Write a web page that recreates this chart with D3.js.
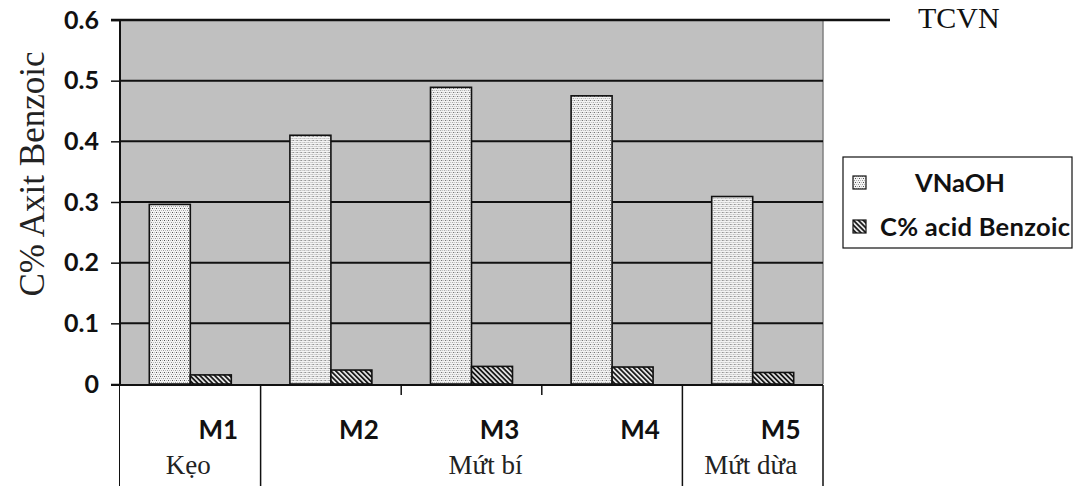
<!DOCTYPE html>
<html>
<head>
<meta charset="utf-8">
<script src="https://cdn.jsdelivr.net/npm/d3@7"></script>
<style>
  html, body { margin: 0; padding: 0; background: #fff; }
  svg { display: block; }
</style>
</head>
<body>
<svg id="chart" width="1077" height="486"></svg>
<script>
// Samples and their product groups
const samples = ["M1", "M2", "M3", "M4", "M5"];
const groups = [
  { name: "Kẹo", members: ["M1"] },
  { name: "Mứt bí", members: ["M2", "M3", "M4"] },
  { name: "Mứt dừa", members: ["M5"] }
];
const seriesNames = ["VNaOH", "C% acid Benzoic"];
const vNaOH = [0.296, 0.410, 0.489, 0.475, 0.309];
const acidBenzoic = [0.015, 0.023, 0.029, 0.028, 0.019];
const yTicks = [0, 0.1, 0.2, 0.3, 0.4, 0.5, 0.6];
const standardValue = 0.6;
const standardLabel = "TCVN";
const yTitle = "C% Axit Benzoic";

const svg = d3.select("#chart");
const plot = { left: 120, right: 823, top: 20, bottom: 384 };

const x = d3.scaleBand().domain(samples).range([plot.left, plot.right]).padding(0);
const xSub = d3.scaleBand().domain(seriesNames).range([0, x.bandwidth()])
  .paddingInner(0).paddingOuter(0.715);
const y = d3.scaleLinear().domain([0, 0.6]).range([plot.bottom, plot.top]);

// Fill patterns
const defs = svg.append("defs");
const dots = defs.append("pattern").attr("id", "dots")
  .attr("patternUnits", "userSpaceOnUse").attr("width", 4).attr("height", 4);
dots.append("rect").attr("width", 4).attr("height", 4).attr("fill", "#f4f4f4");
dots.append("rect").attr("x", 0).attr("y", 0).attr("width", 1).attr("height", 1).attr("fill", "#555");
dots.append("rect").attr("x", 2).attr("y", 0).attr("width", 1).attr("height", 1).attr("fill", "#bbb");
dots.append("rect").attr("x", 1).attr("y", 2).attr("width", 1).attr("height", 1).attr("fill", "#bbb");
dots.append("rect").attr("x", 3).attr("y", 2).attr("width", 1).attr("height", 1).attr("fill", "#999");

const hatch = defs.append("pattern").attr("id", "hatch")
  .attr("patternUnits", "userSpaceOnUse").attr("width", 3.5).attr("height", 3.5)
  .attr("patternTransform", "rotate(-45)");
hatch.append("rect").attr("width", 3.5).attr("height", 3.5).attr("fill", "#e8e8e8");
hatch.append("rect").attr("x", 0).attr("y", 0).attr("width", 1.8).attr("height", 3.5).attr("fill", "#1a1a1a");

const fills = { "VNaOH": "url(#dots)", "C% acid Benzoic": "url(#hatch)" };

// Plot background
svg.append("rect")
  .attr("x", plot.left).attr("y", plot.top)
  .attr("width", plot.right - plot.left).attr("height", plot.bottom - plot.top)
  .attr("fill", "#c0c0c0");
svg.append("line")
  .attr("x1", plot.right).attr("x2", plot.right)
  .attr("y1", plot.top).attr("y2", plot.bottom)
  .attr("stroke", "#808080").attr("stroke-width", 1.5);

// Grid lines
svg.append("g").selectAll("line")
  .data(yTicks.filter(t => t > 0 && t < 0.6))
  .join("line")
  .attr("x1", plot.left).attr("x2", plot.right)
  .attr("y1", d => y(d)).attr("y2", d => y(d))
  .attr("stroke", "#111").attr("stroke-width", 2);

// Bars
const rows = samples.map((s, i) => ({ sample: s, values: [vNaOH[i], acidBenzoic[i]] }));
const barG = svg.append("g").selectAll("g").data(rows).join("g")
  .attr("transform", d => `translate(${x(d.sample)},0)`);
barG.selectAll("rect")
  .data(d => seriesNames.map((n, k) => ({ name: n, value: d.values[k] })))
  .join("rect")
  .attr("x", d => xSub(d.name))
  .attr("width", xSub.bandwidth())
  .attr("y", d => y(d.value))
  .attr("height", d => y(0) - y(d.value))
  .attr("fill", d => fills[d.name])
  .attr("stroke", "#111").attr("stroke-width", 1.6);

// Standard (TCVN) line
svg.append("line")
  .attr("x1", 111).attr("x2", 890)
  .attr("y1", y(standardValue)).attr("y2", y(standardValue))
  .attr("stroke", "#111").attr("stroke-width", 2.5);
svg.append("text")
  .attr("x", 918).attr("y", y(standardValue) + 8)
  .attr("font-family", "Liberation Serif, Times New Roman, serif")
  .attr("font-size", 30).attr("fill", "#111")
  .text(standardLabel);

// Y axis
const yAxis = d3.axisLeft(y).tickValues(yTicks).tickSize(9).tickPadding(12)
  .tickFormat(d => d === 0 ? "0" : d3.format(".1f")(d));
const yg = svg.append("g").attr("transform", `translate(${plot.left},0)`).call(yAxis);
yg.select(".domain").remove();
yg.selectAll(".tick line").attr("stroke", "#111").attr("stroke-width", 1.5);
yg.selectAll(".tick text")
  .attr("font-family", "Lato, Open Sans, sans-serif")
  .attr("font-weight", 700).attr("font-size", 25).attr("fill", "#111");
svg.append("line")
  .attr("x1", plot.left).attr("x2", plot.left)
  .attr("y1", plot.top).attr("y2", 486)
  .attr("stroke", "#111").attr("stroke-width", 2);

// Y title
svg.append("text")
  .attr("transform", `translate(44,174) rotate(-90)`)
  .attr("text-anchor", "middle")
  .attr("font-family", "Liberation Serif, Times New Roman, serif")
  .attr("font-size", 35).attr("fill", "#222")
  .text(yTitle);

// Category axis (two levels)
svg.append("rect")
  .attr("x", plot.left).attr("y", plot.bottom + 1)
  .attr("width", plot.right - plot.left).attr("height", 486 - plot.bottom)
  .attr("fill", "#fff");
svg.append("line")
  .attr("x1", 111).attr("x2", plot.right)
  .attr("y1", plot.bottom + 1).attr("y2", plot.bottom + 1)
  .attr("stroke", "#111").attr("stroke-width", 2);

// Short ticks between samples inside a group
const innerTicks = [];
groups.forEach(g => g.members.slice(1).forEach(m => innerTicks.push(x(m))));
svg.append("g").selectAll("line").data(innerTicks).join("line")
  .attr("x1", d => d).attr("x2", d => d)
  .attr("y1", plot.bottom + 1).attr("y2", plot.bottom + 11)
  .attr("stroke", "#111").attr("stroke-width", 1.5);

// Full-height dividers between groups and at the right edge
const dividers = groups.slice(1).map(g => x(g.members[0])).concat([plot.right]);
svg.append("g").selectAll("line").data(dividers).join("line")
  .attr("x1", d => d).attr("x2", d => d)
  .attr("y1", plot.bottom + 1).attr("y2", 486)
  .attr("stroke", "#111").attr("stroke-width", 1.5);

// Sample labels
svg.append("g").selectAll("text").data(samples).join("text")
  .attr("x", d => x(d) + x.bandwidth() / 2 + 28)
  .attr("y", 439)
  .attr("text-anchor", "middle")
  .attr("font-family", "Lato, Open Sans, sans-serif")
  .attr("font-weight", 700).attr("font-size", 26).attr("fill", "#111")
  .text(d => d);

// Group labels
svg.append("g").selectAll("text").data(groups).join("text")
  .attr("x", g => {
    const first = x(g.members[0]);
    const last = x(g.members[g.members.length - 1]) + x.bandwidth();
    return (first + last) / 2 + (g.members.length > 1 ? 14 : -2);
  })
  .attr("y", 474)
  .attr("text-anchor", "middle")
  .attr("font-family", "Liberation Serif, Times New Roman, serif")
  .attr("font-size", 27).attr("fill", "#222")
  .text(g => g.name);

// Legend
const legend = svg.append("g").attr("transform", "translate(843,157)");
legend.append("rect").attr("width", 229).attr("height", 91)
  .attr("fill", "#fff").attr("stroke", "#111").attr("stroke-width", 1.2);
const items = legend.selectAll("g.item").data(seriesNames).join("g")
  .attr("class", "item")
  .attr("transform", (d, i) => `translate(0,${25 + i * 44})`);
items.append("rect")
  .attr("x", 10).attr("y", -6).attr("width", 13).attr("height", 13)
  .attr("fill", d => fills[d]).attr("stroke", "#111").attr("stroke-width", 1.2);
items.append("text")
  .attr("x", (d, i) => i === 0 ? 117 : 37)
  .attr("y", 10)
  .attr("text-anchor", (d, i) => i === 0 ? "middle" : "start")
  .attr("font-family", "Lato, Open Sans, sans-serif")
  .attr("font-weight", 700).attr("font-size", 25.5).attr("fill", "#111")
  .attr("textLength", (d, i) => i === 0 ? null : 190)
  .text(d => d);
</script>
</body>
</html>
